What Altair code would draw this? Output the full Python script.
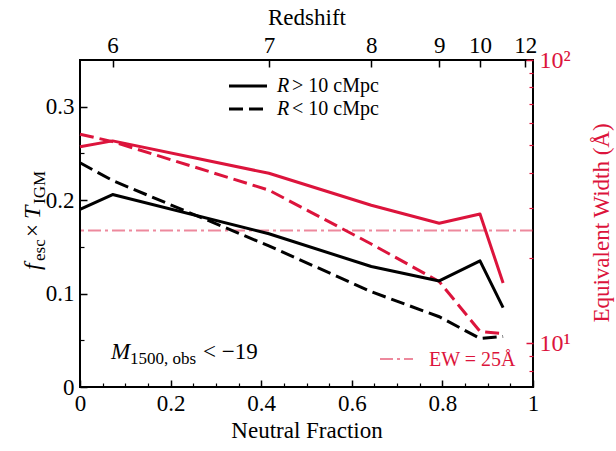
import altair as alt
import pandas as pd

# ---------------- data ----------------
neutral_fraction = [0.0, 0.072, 0.417, 0.643, 0.793, 0.883, 0.934]
fesc_far = [0.190, 0.206, 0.164, 0.129, 0.1135, 0.135, 0.085]
fesc_near = [0.240, 0.221, 0.151, 0.102, 0.0752, 0.052, 0.054]
ew_far = [49.4, 51.8, 39.8, 30.7, 26.5, 28.6, 16.3]
ew_near = [54.7, 51.5, 34.7, 22.4, 16.5, 11.0, 10.8]
ew_reference = [25]

redshift_positions = [0.072, 0.417, 0.643, 0.793, 0.883, 0.983]
redshift_labels = ["6", "7", "8", "9", "10", "12"]

x_major = [0.0, 0.2, 0.4, 0.6, 0.8, 1.0]
x_minor = [0.05, 0.1, 0.15, 0.25, 0.3, 0.35, 0.45, 0.5, 0.55, 0.65, 0.7, 0.75, 0.85, 0.9, 0.95]
yl_major = [0.0, 0.1, 0.2, 0.3]
yl_minor = [0.05, 0.15, 0.25]
yr_major = [10, 100]
yr_labels = ["10¹", "10²"]
yr_minor = [8, 9, 20, 30, 40, 50, 60, 70, 80, 90]

FONT = "Liberation Serif, Times New Roman, Times, serif"
RED = "#DC143C"
TICK_FS = 23
TITLE_FS = 23

xscale = alt.Scale(domain=[0, 1], nice=False, zero=False)
ylscale = alt.Scale(domain=[0, 0.35], nice=False, zero=False)
yrscale = alt.Scale(type="log", domain=[7, 100], nice=False)

common = dict(domain=False, grid=False, labelFont=FONT, labelFlush=False,
              labelOverlap=False, labelBound=False, titleFont=FONT,
              titleFontWeight="normal")


def lbl_expr(vals, labels):
    parts = [f"abs(datum.value-{v})<0.001 ? '{l}'" for v, l in zip(vals, labels)]
    return " : ".join(parts) + " : ''"


ax_bottom = alt.Axis(orient="bottom", values=x_major, format="~g", tickSize=7, offset=-7,
                     tickWidth=1.5, tickColor="black", labelFontSize=TICK_FS, labelColor="black",
                     labelPadding=5, title="Neutral Fraction", titleFontSize=TITLE_FS,
                     titleColor="black", titlePadding=4, **common)
ax_bottom_minor = alt.Axis(orient="bottom", values=x_minor, tickSize=4, offset=-4,
                           tickWidth=1.2, tickColor="black", labels=False, title=None,
                           **common)
ax_top = alt.Axis(orient="top", values=redshift_positions,
                  labelExpr=lbl_expr(redshift_positions, redshift_labels),
                  tickSize=7, offset=-7, tickWidth=1.5, tickColor="black",
                  labelFontSize=TICK_FS, labelColor="black", labelPadding=3,
                  title="Redshift", titleFontSize=TITLE_FS, titleColor="black", titlePadding=5,
                  **common)
ax_left = alt.Axis(orient="left", values=yl_major, format="~g", tickSize=7, offset=-7,
                   tickWidth=1.5, tickColor="black", labelFontSize=TICK_FS, labelColor="black",
                   labelPadding=6, title=None, **common)
ax_left_minor = alt.Axis(orient="left", values=yl_minor, tickSize=4, offset=-4,
                         tickWidth=1.2, tickColor="black", labels=False, title=None,
                         **common)
ax_right = alt.Axis(orient="right", values=yr_major, labelExpr=lbl_expr(yr_major, yr_labels),
                    tickSize=7, offset=-7, tickWidth=1.5, tickColor=RED,
                    labelFontSize=24, labelColor=RED, labelPadding=6, title=None, **common)
ax_right_minor = alt.Axis(orient="right", values=yr_minor, tickSize=4, offset=-4,
                          tickWidth=1.2, tickColor=RED, labels=False, title=None, **common)

df_far = pd.DataFrame({"x": neutral_fraction, "f": fesc_far, "ew": ew_far})
df_near = pd.DataFrame({"x": neutral_fraction, "f": fesc_near, "ew": ew_near})

black_solid = alt.Chart(df_far).mark_line(color="black", strokeWidth=3, strokeJoin="round").encode(
    x=alt.X("x:Q", scale=xscale, axis=ax_bottom),
    y=alt.Y("f:Q", scale=ylscale, axis=ax_left),
)
black_dashed = alt.Chart(df_near).mark_line(color="black", strokeWidth=3, strokeDash=[14, 6]).encode(
    x=alt.X("x:Q", scale=xscale, axis=None),
    y=alt.Y("f:Q", scale=ylscale, axis=None),
)
bottom_minor = alt.Chart(pd.DataFrame({"v": x_minor})).mark_point(opacity=0).encode(
    x=alt.X("v:Q", scale=xscale, axis=ax_bottom_minor)
)
top_axis = alt.Chart(pd.DataFrame({"v": redshift_positions})).mark_point(opacity=0).encode(
    x=alt.X("v:Q", scale=xscale, axis=ax_top)
)
left_minor = alt.Chart(pd.DataFrame({"v": yl_minor})).mark_point(opacity=0).encode(
    y=alt.Y("v:Q", scale=ylscale, axis=ax_left_minor)
)


def txt(s, x, y, size=20, color="black", style="normal", align="left",
        baseline="alphabetic", angle=0):
    return alt.Chart(pd.DataFrame({"t": [s]})).mark_text(
        font=FONT, fontSize=size, color=color, fontStyle=style, align=align,
        baseline=baseline, angle=angle,
    ).encode(text="t:N", x=alt.value(x), y=alt.value(y))


def seg(x1, x2, y, color="black", width=3, dash=None, opacity=1):
    kw = dict(color=color, strokeWidth=width, opacity=opacity)
    if dash:
        kw["strokeDash"] = dash
    return alt.Chart(pd.DataFrame({"a": [0]})).mark_rule(**kw).encode(
        x=alt.value(x1), x2=alt.value(x2), y=alt.value(y)
    )


texts = [
    # legend
    seg(149, 187, 26),
    txt("R", 197, 26, size=20, style="italic", baseline="middle"),
    txt("> 10 cMpc", 212, 26, size=20, baseline="middle"),
    seg(149, 187, 49, dash=[14, 6]),
    txt("R", 197, 49, size=20, style="italic", baseline="middle"),
    txt("< 10 cMpc", 212, 49, size=20, baseline="middle"),
    # annotation
    txt("M", 31, 299, size=23, style="italic"),
    txt("1500, obs", 50, 304, size=17, ),
    txt("< \u221219", 123, 299, size=23),
    # EW legend
    seg(300, 333, 299, color=RED, width=2, dash=[13, 4, 3, 4], opacity=0.5),
    txt("EW = 25Å", 349, 300, size=20, color=RED, baseline="middle"),
    # left axis title
    txt("f", -40, 210, size=24, style="italic", angle=270),
    txt("esc", -35, 201, size=17, angle=270),
    txt("×", -40, 177, size=23, angle=270),
    txt("T", -40, 159, size=24, style="italic", angle=270),
    txt("IGM", -35, 144, size=17, angle=270),
    # right axis title
    txt("Equivalent Width (Å)", 522, 163, size=23, color=RED, align="center",
        baseline="middle", angle=270),
]

left_group = alt.layer(black_solid, black_dashed, bottom_minor, top_axis, left_minor,
                       *texts).resolve_axis(x="independent", y="independent")

red_solid = alt.Chart(df_far).mark_line(color=RED, strokeWidth=3, strokeJoin="round").encode(
    x=alt.X("x:Q", scale=xscale, axis=None),
    y=alt.Y("ew:Q", scale=yrscale, axis=ax_right),
)
red_dashed = alt.Chart(df_near).mark_line(color=RED, strokeWidth=3, strokeDash=[14, 6]).encode(
    x=alt.X("x:Q", scale=xscale, axis=None),
    y=alt.Y("ew:Q", scale=yrscale, axis=None),
)
ref_line = alt.Chart(pd.DataFrame({"ew": ew_reference})).mark_rule(
    color=RED, opacity=0.5, strokeWidth=2, strokeDash=[13, 4, 3, 4]
).encode(y=alt.Y("ew:Q", scale=yrscale, axis=None))
right_minor = alt.Chart(pd.DataFrame({"v": yr_minor})).mark_point(opacity=0).encode(
    y=alt.Y("v:Q", scale=yrscale, axis=ax_right_minor)
)

right_group = alt.layer(ref_line, red_solid, red_dashed, right_minor).resolve_axis(y="independent")

chart = alt.layer(right_group, left_group).resolve_scale(y="independent").resolve_axis(
    x="independent", y="independent"
).properties(
    width=453, height=327,
    padding={"left": 80, "top": 60, "right": 83, "bottom": 64},
    autosize=alt.AutoSizeParams(type="none"),
    background="white",
).configure_view(stroke="black", strokeWidth=2)

chart.save("out.html", embed_options={"renderer": "svg", "actions": False})
